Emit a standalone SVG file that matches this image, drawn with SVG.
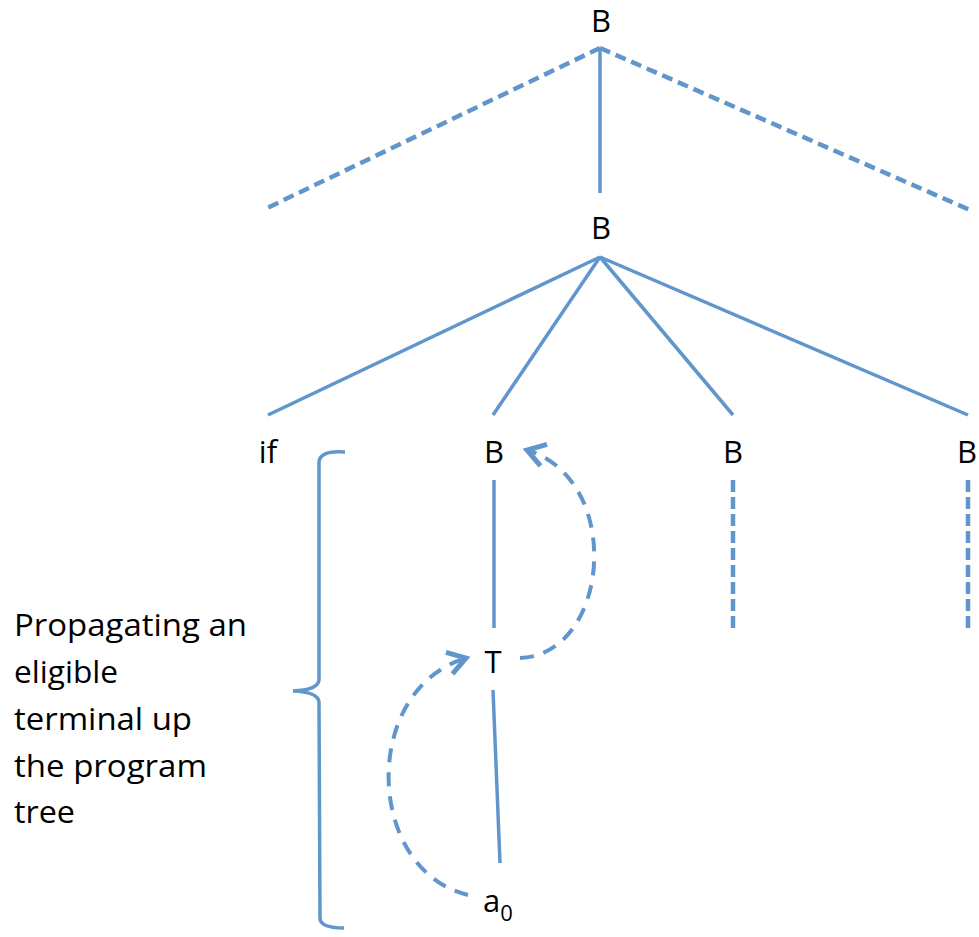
<svg xmlns="http://www.w3.org/2000/svg" width="979" height="937" viewBox="0 0 979 937">
<style>
.lbl{font-family:"Open Sans","Liberation Sans",sans-serif;font-size:31px;fill:#000}
.cap{font-family:"Open Sans","Liberation Sans",sans-serif;font-size:31px;fill:#000}
.edge{stroke:#6096cc;stroke-width:3.5;fill:none;stroke-linecap:butt}
.dash1{stroke-dasharray:11 6;stroke-width:4.5}
.dash2{stroke-dasharray:12 5;stroke-width:4.5}
.dash3{stroke-dasharray:14 10;stroke-width:4}
</style>
<defs>
<marker id="open" markerUnits="userSpaceOnUse" markerWidth="30" markerHeight="30" refX="0" refY="0" viewBox="-18 -12 22 24" orient="auto" overflow="visible">
<path d="M -14 -9 L 0 0 L -14 9" fill="none" stroke="#6096cc" stroke-width="4"/>
</marker>
</defs>
<rect width="979" height="937" fill="#fff"/>
<g id="connectors">
<path class="edge dash1" d="M 600 48 L 263 210"/>
<path class="edge dash1" d="M 600 48 L 970 210"/>
<path class="edge" d="M 600 48 L 600 193"/>
<path class="edge" d="M 600 257 L 268 415"/>
<path class="edge" d="M 600 257 L 493 415"/>
<path class="edge" d="M 600 257 L 733 415"/>
<path class="edge" d="M 600 257 L 968 415"/>
<path class="edge" d="M 494 480 L 494 628"/>
<path class="edge dash2" d="M 733 480 L 733 628"/>
<path class="edge dash2" d="M 968 480 L 968 628"/>
<path class="edge" d="M 493 690 L 500 863"/>
<path class="edge dash3" d="M 520 658 C 610 655, 625 480, 527 450" marker-end="url(#open)"/>
<path class="edge dash3" d="M 468 895 C 365 870, 360 690, 466 658" marker-end="url(#open)"/>
<path id="bracket" class="edge" stroke-width="4" d="M 345 452 Q 320 450 319 462 L 319 680 Q 318 690 293 691 Q 318 692 319 702 L 320 918 Q 320 928 344 928"/>
</g>
<g id="n-B-top"><text class="lbl" x="601" y="32" text-anchor="middle">B</text></g>
<g id="n-B-mid"><text class="lbl" x="601" y="239" text-anchor="middle">B</text></g>
<g id="n-if"><text class="lbl" x="268" y="463" text-anchor="middle">if</text></g>
<g id="n-B1"><text class="lbl" x="494" y="463" text-anchor="middle">B</text></g>
<g id="n-B2"><text class="lbl" x="733" y="463" text-anchor="middle">B</text></g>
<g id="n-B3"><text class="lbl" x="967" y="463" text-anchor="middle">B</text></g>
<g id="n-T"><text class="lbl" x="493" y="673" text-anchor="middle">T</text></g>
<g id="n-a0"><text class="lbl" x="483" y="912">a<tspan font-size="22" dy="9">0</tspan></text></g>
<g id="caption">
<text class="cap" x="14" y="636" textLength="233" lengthAdjust="spacingAndGlyphs">Propagating an</text>
<text class="cap" x="14" y="683" textLength="104" lengthAdjust="spacingAndGlyphs">eligible</text>
<text class="cap" x="14" y="730" textLength="178" lengthAdjust="spacingAndGlyphs">terminal up</text>
<text class="cap" x="14" y="777" textLength="193" lengthAdjust="spacingAndGlyphs">the program</text>
<text class="cap" x="14" y="823" textLength="61" lengthAdjust="spacingAndGlyphs">tree</text>
</g>
</svg>
